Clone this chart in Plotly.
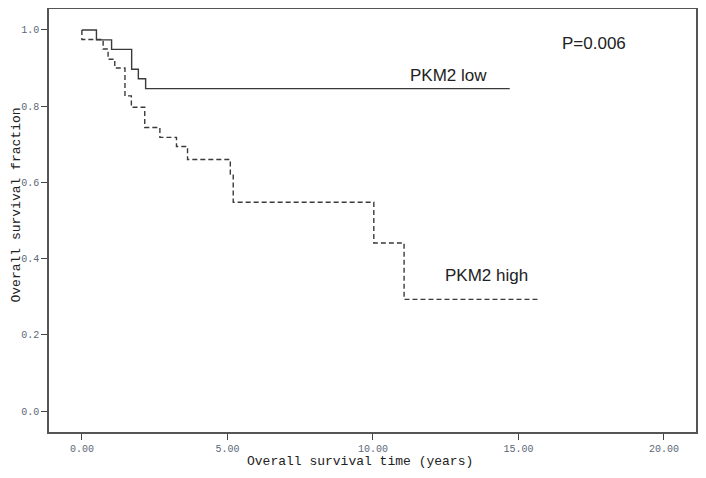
import plotly.graph_objs as go

# Kaplan-Meier step curves (time in years, survival fraction)
low_time = [0.0, 0.5, 1.02, 1.71, 1.94, 2.19, 14.7]
low_surv = [1.0, 0.974, 0.949, 0.897, 0.872, 0.846, 0.846]

high_time = [0.0, 0.0, 0.73, 0.9, 1.13, 1.48, 1.7, 2.16, 2.68, 3.25, 3.63, 5.1, 5.2, 10.03, 11.07, 15.7]
high_surv = [1.0, 0.975, 0.95, 0.923, 0.90, 0.827, 0.797, 0.744, 0.718, 0.694, 0.66, 0.622, 0.548, 0.441, 0.293, 0.293]

x_ticks = [0, 5, 10, 15, 20]
y_ticks = [0.0, 0.2, 0.4, 0.6, 0.8, 1.0]

fig = go.Figure()

fig.add_trace(go.Scatter(x=low_time, y=low_surv, name='PKM2 low', mode='lines',
                         line=dict(color='#3a3a3a', width=1.4, shape='hv')))
fig.add_trace(go.Scatter(x=high_time, y=high_surv, name='PKM2 high', mode='lines',
                         line=dict(color='#3a3a3a', width=1.4, shape='hv', dash='5px,3px')))

tick_font = dict(family='Liberation Mono', size=10, color='#5a6878')
title_font = dict(family='Liberation Mono', size=13, color='#222222')

# page body has an 8px margin, so the figure is sized to fit inside it
fig.update_layout(
    width=690, height=462,
    margin=dict(l=41, r=2, t=1, b=38),
    plot_bgcolor='white', paper_bgcolor='white',
    showlegend=False,
    xaxis=dict(range=[-1.13, 21.1], tickvals=x_ticks, tickformat='.2f',
               ticks='outside', ticklen=6, tickcolor='#444', tickwidth=1.2,
               showgrid=False, zeroline=False, showline=True, mirror=True,
               linecolor='#555', linewidth=1.5, tickfont=tick_font, automargin=False),
    yaxis=dict(range=[-0.055, 1.055], tickvals=y_ticks, tickformat='.1f',
               ticks='outside', ticklen=6, tickcolor='#444', tickwidth=1.2,
               showgrid=False, zeroline=False, showline=True, mirror=True,
               linecolor='#555', linewidth=1.5, tickfont=tick_font, automargin=False),
)

# axis titles placed as annotations to match the original offsets
fig.add_annotation(xref='paper', yref='paper', x=0.481, y=-0.069,
                   xanchor='center', yanchor='middle',
                   text='Overall survival time (years)', showarrow=False, font=title_font)
fig.add_annotation(xref='paper', yref='paper', x=-0.05, y=0.537,
                   xanchor='center', yanchor='middle',
                   text='Overall survival fraction', showarrow=False, font=title_font, textangle=-90)

label_font = dict(family='Liberation Sans', size=17, color='#222222')
fig.add_annotation(x=17.6, y=0.965, text='P=0.006', showarrow=False, font=label_font)
fig.add_annotation(x=12.6, y=0.88, text='PKM2 low', showarrow=False, font=label_font)
fig.add_annotation(x=13.9, y=0.355, text='PKM2 high', showarrow=False, font=label_font)

fig.write_html("out.html")
